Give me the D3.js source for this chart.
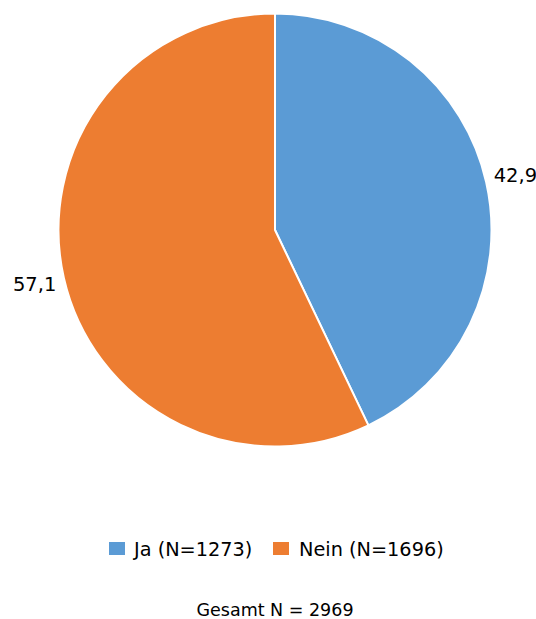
<!DOCTYPE html>
<html><head><meta charset="utf-8">
<script src="https://cdn.jsdelivr.net/npm/d3@7"></script>
<style>body{margin:0;background:#fff}svg{display:block;font-family:"DejaVu Sans",sans-serif}</style>
</head><body>
<script>
const categories = ["Ja (N=1273)", "Nein (N=1696)"];
const values = [42.9, 57.1];
const valueLabels = ["42,9", "57,1"];
const colors = ["#5B9BD5", "#ED7D31"];
const totalLabel = "Gesamt N = 2969";

const W = 536, H = 619;
const svg = d3.select("body").append("svg").attr("width", W).attr("height", H);
const cx = 275, cy = 230, r = 216.5;
const pie = d3.pie().sort(null).value(d => d)(values);
const arc = d3.arc().innerRadius(0).outerRadius(r);
const g = svg.append("g").attr("transform", `translate(${cx},${cy})`);
g.selectAll("path").data(pie).join("path")
  .attr("d", arc).attr("fill", (d, i) => colors[i])
  .attr("stroke", "#fff").attr("stroke-width", 2).attr("stroke-linejoin", "round");

const labelArc = d3.arc().innerRadius(r + 30).outerRadius(r + 30);
g.selectAll("text.v").data(pie).join("text").attr("class", "v")
  .attr("transform", d => { const c = labelArc.centroid(d); return `translate(${c[0]},${c[1]})`; })
  .attr("text-anchor", "middle").attr("dy", "0.35em")
  .attr("font-size", 19.5).attr("fill", "#000")
  .text((d, i) => valueLabels[i]);

// legend
const legend = svg.append("g");
const items = [{x: 109, tx: 134}, {x: 273, tx: 299}];
categories.forEach((c, i) => {
  legend.append("rect").attr("x", items[i].x).attr("y", 542).attr("width", 16).attr("height", 13).attr("fill", colors[i]);
  legend.append("text").attr("x", items[i].tx).attr("y", 549).attr("dy", "0.35em")
    .attr("font-size", 19.3).attr("fill", "#000").text(c);
});
svg.append("text").attr("x", 275).attr("y", 610).attr("dy", "0.35em").attr("text-anchor", "middle")
  .attr("font-size", 17.5).attr("fill", "#000").text(totalLabel);
</script>
</body></html>
